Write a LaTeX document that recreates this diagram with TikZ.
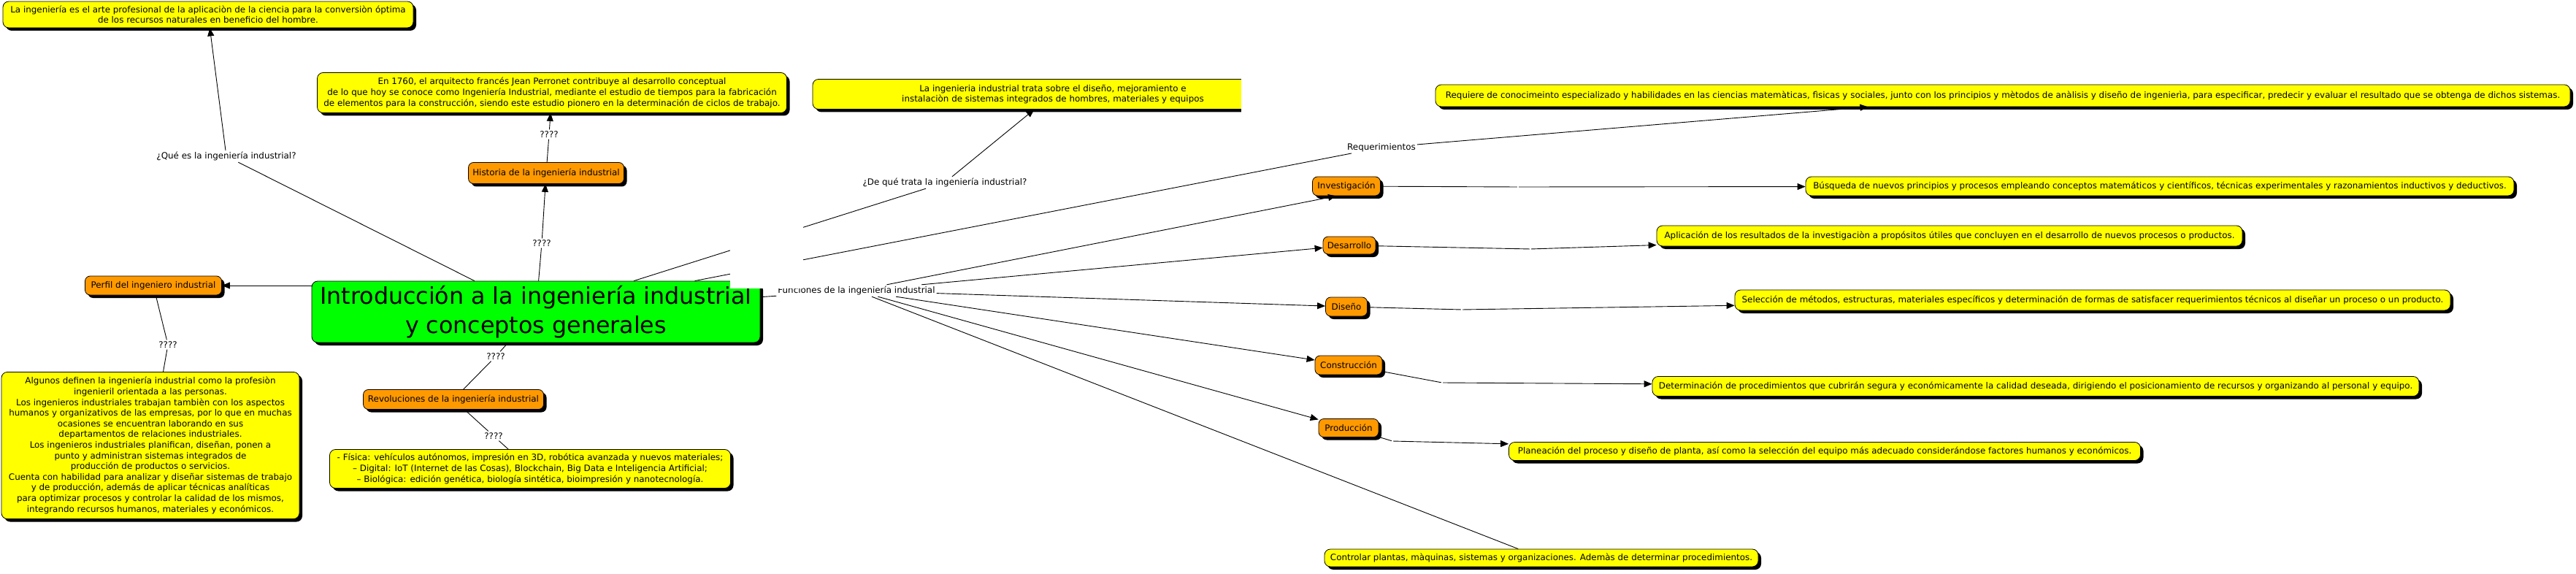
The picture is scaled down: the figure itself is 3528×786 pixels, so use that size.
\documentclass[tikz,border=0pt]{standalone}
\usepackage{fontspec}
\setmainfont{DejaVu Sans}
\usetikzlibrary{arrows.meta, shadows, positioning}
\definecolor{NodeYellow}{HTML}{FFFF00}
\definecolor{NodeOrange}{HTML}{FF9900}
\definecolor{NodeGreen}{HTML}{00FF00}

\begin{document}
\begin{tikzpicture}[x=1pt, y=-1pt,
    base/.style={rectangle, draw=black, line width=0.8pt, rounded corners=8pt, align=center, inner sep=1pt, font=\fontsize{11.9}{14.6}\selectfont, drop shadow={shadow xshift=4pt, shadow yshift=-4pt, opacity=1, fill=black}},
    concept/.style={base, fill=NodeYellow},
    topic/.style={base, fill=NodeOrange, rounded corners=7pt},
    root/.style={base, fill=NodeGreen, font=\fontsize{31.7}{40}\selectfont},
    sz/.style 2 args={minimum width=#1pt, minimum height=#2pt},
    lbl/.style={fill=white, inner sep=2pt, font=\fontsize{11.9}{14.6}\selectfont},
    hop/.style={fill=white, inner sep=1pt},
    link/.style={line width=0.9pt},
    arrow/.style={link, -{Triangle[length=11pt, width=9pt]}}
  ]
  \useasboundingbox (0,0) rectangle (3528,786);

  % Central concept
  \node[root, sz={614}{84}] (intro) at (734,427) {Introducción a la ingeniería industrial\\y conceptos generales};

  % Left branch
  \node[concept, sz={562}{36}] (que) at (285,20) {La ingeniería es el arte profesional de la aplicaciòn de la ciencia para la conversiòn óptima\\de los recursos naturales en beneficio del hombre.};
  \node[topic, sz={187}{26}] (perfil) at (210,391) {Perfil del ingeniero industrial};
  \node[concept, sz={408}{201}] (alg) at (206,610) {Algunos definen la ingeniería industrial como la profesiòn\\ingenieril orientada a las personas.\\Los ingenieros industriales trabajan tambièn con los aspectos\\humanos y organizativos de las empresas, por lo que en muchas\\ocasiones se encuentran laborando en sus\\departamentos de relaciones industriales.\\Los ingenieros industriales planifican, diseñan, ponen a\\punto y administran sistemas integrados de\\producción de productos o servicios.\\Cuenta con habilidad para analizar y diseñar sistemas de trabajo\\y de producción, además de aplicar técnicas analíticas\\para optimizar procesos y controlar la calidad de los mismos,\\integrando recursos humanos, materiales y económicos.};

  % Historia and revoluciones
  \node[concept, sz={643}{55}] (perr) at (756,127) {En 1760, el arquitecto francés Jean Perronet contribuye al desarrollo conceptual\\de lo que hoy se conoce como Ingeniería Industrial, mediante el estudio de tiempos para la fabricación\\de elementos para la construcción, siendo este estudio pionero en la determinación de ciclos de trabajo.};
  \node[topic, sz={213}{29}] (hist) at (748,237) {Historia de la ingeniería industrial};
  \node[topic, sz={247}{27}] (revol) at (621,547) {Revoluciones de la ingeniería industrial};
  \node[concept, sz={549}{53}] (fis) at (726,642) {- Física: vehículos autónomos, impresión en 3D, robótica avanzada y nuevos materiales;\\– Digital: IoT (Internet de las Cosas), Blockchain, Big Data e Inteligencia Artificial;\\– Biológica: edición genética, biología sintética, bioimpresión y nanotecnología.};

  % Top right
  \node[concept, sz={658}{41}] (trata) at (1442,129) {La ingenieria industrial trata sobre el diseño, mejoramiento e\\instalaciòn de sistemas integrados de hombres, materiales y equipos};
  \node[concept, sz={1554}{30}] (req) at (2743,131) {Requiere de conocimeinto especializado y habilidades en las ciencias matemàticas, fìsicas y sociales, junto con los principios y mètodos de anàlisis y diseño de ingenierìa, para especificar, predecir y evaluar el resultado que se obtenga de dichos sistemas.};

  % Funciones
  \node[topic, sz={93}{26}] (inv) at (1844,255) {Investigación};
  \node[topic, sz={72}{24}] (des) at (1848,336) {Desarrollo};
  \node[topic, sz={57}{26}] (dis) at (1844,420) {Diseño};
  \node[topic, sz={92}{26}] (cons) at (1847,500) {Construcción};
  \node[topic, sz={82}{25}] (prod) at (1847,586) {Producción};
  \node[concept, sz={970}{26}] (busq) at (2958,255) {Búsqueda de nuevos principios y procesos empleando conceptos matemáticos y científicos, técnicas experimentales y razonamientos inductivos y deductivos.};
  \node[concept, sz={802}{28}] (aplic) at (2670,323) {Aplicación de los resultados de la investigaciòn a propósitos útiles que concluyen en el desarrollo de nuevos procesos o productos.};
  \node[concept, sz={980}{28}] (selec) at (2866,411) {Selección de métodos, estructuras, materiales específicos y determinación de formas de satisfacer requerimientos técnicos al diseñar un proceso o un producto.};
  \node[concept, sz={1050}{27}] (deter) at (2788,529) {Determinación de procedimientos que cubrirán segura y económicamente la calidad deseada, dirigiendo el posicionamiento de recursos y organizando al personal y equipo.};
  \node[concept, sz={865}{25}] (plan) at (2499,618) {Planeación del proceso y diseño de planta, así como la selección del equipo más adecuado considerándose factores humanos y económicos.};
  \node[concept, sz={594}{24}] (contr) at (2111,764) {Controlar plantas, màquinas, sistemas y organizaciones. Ademàs de determinar procedimientos.};

  % Link labels
  \node[lbl] (lque) at (310,214) {¿Qué es la ingeniería industrial?};
  \node[lbl] (lhist) at (742,333) {????};
  \node[lbl] (lperr) at (752,184) {????};
  \node[lbl] (lrevol) at (679,488) {????};
  \node[lbl] (lfis) at (676,597) {????};
  \node[lbl] (lalg) at (230,472) {????};
  \node[lbl] (ltrata) at (1294,250) {¿De qué trata la ingeniería industrial?};
  \node[lbl] (lreq) at (1892,202) {Requerimientos};
  \node[lbl] (lfun) at (1173,398) {Funciones de la ingeniería industrial};
  \node[hop] (hinv) at (2079,256) {};
  \node[hop] (hdes) at (2096,341) {};
  \node[hop] (hdis) at (2002,424) {};
  \node[hop] (hcons) at (1975,524) {};
  \node[hop] (hprod) at (1907,604) {};

  % Connections
  \draw[arrow] (intro) -- (lque) -- (que);
  \draw[arrow] (intro.west |- perfil.east) -- (perfil.east);
  \draw[link] (perfil) -- (lalg) -- (alg);
  \draw[arrow] (intro) -- (lhist) -- (hist);
  \draw[arrow] (hist) -- (lperr) -- (perr);
  \draw[link] (intro) -- (lrevol) -- (revol);
  \draw[link] (revol) -- (lfis) -- (fis);
  \draw[arrow] (intro) -- (ltrata) -- (trata);
  \draw[arrow] (intro) -- (lreq) -- (req);
  \draw[link] (intro) -- (lfun);
  \draw[arrow] (lfun) -- ([xshift=-14pt]inv.south);
  \foreach \t in {des, dis, cons, prod}
    \draw[arrow] (lfun) -- (\t);
  \draw[link] (lfun) -- (contr);
  \draw[arrow] (inv) -- (hinv) -- (busq);
  \draw[arrow] (des) -- (hdes) -- (aplic);
  \draw[arrow] (dis) -- (hdis) -- (selec);
  \draw[arrow] (cons) -- (hcons) -- (deter);
  \draw[arrow] (prod) -- (hprod) -- (plan);

  % White patches as in the source image
  \fill[white] (1000,288) rectangle (1100,395);
  \fill[white] (1700,98) rectangle (1800,166);
\end{tikzpicture}
\end{document}
